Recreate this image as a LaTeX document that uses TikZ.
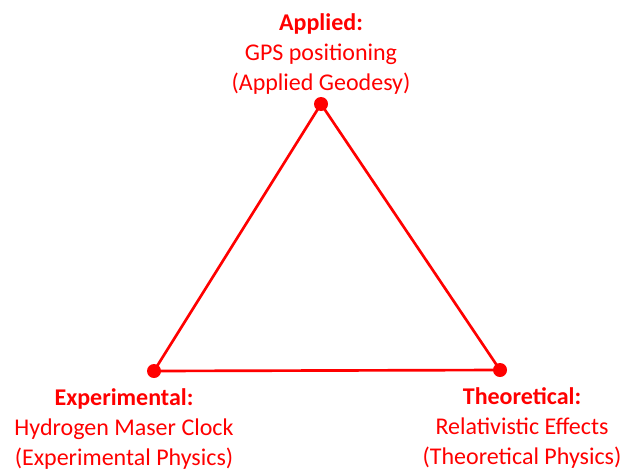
\documentclass[tikz,border=0pt]{standalone}
\usepackage{fontspec}
\setmainfont{Carlito}
\usetikzlibrary{positioning,calc}
\definecolor{TriRed}{RGB}{255,0,0}
\tikzset{vtx/.style={circle,fill=TriRed,inner sep=0pt,minimum size=10.5pt}, lbl/.style={align=center,text=TriRed,inner sep=0pt,font=\fontsize{18}{22.5}\selectfont},edge/.style={draw=TriRed,line width=2pt}}

\begin{document}
\begin{tikzpicture}[x=0.75pt,y=-0.75pt]
\useasboundingbox (0,0) rectangle (623,471);
\coordinate (pa) at (321,104);
\coordinate (pe) at (154,371);
\coordinate (pt) at (500,370);
\draw[edge] (pa) -- (pt) -- (pe) -- cycle;
\node[vtx] (va) at (pa) {};
\node[vtx] (ve) at (pe) {};
\node[vtx] (vt) at (pt) {};
\node[lbl] (applied) at (321,54.5) {\textbf{Applied:}\\GPS positioning\\(Applied Geodesy)};
\node[lbl] (experimental) at (124,429) {\textbf{Experimental:}\\Hydrogen Maser Clock\\(Experimental Physics)};
\node[lbl] (theoretical) at (522,428) {\textbf{Theoretical:}\\Relativistic Effects\\(Theoretical Physics)};
\end{tikzpicture}
\end{document}
